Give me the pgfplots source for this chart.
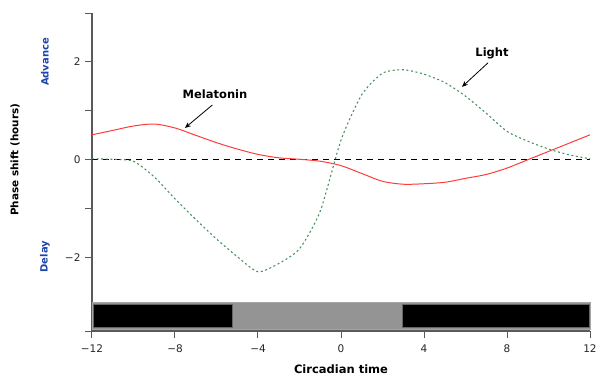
\documentclass[border=0pt]{standalone}
\usepackage{pgfplots}
\pgfplotsset{compat=1.18}
\usepackage{fontspec}
\setmainfont{DejaVu Sans}
\usetikzlibrary{arrows.meta}
\definecolor{redline}{RGB}{255,60,60}
\definecolor{greenline}{RGB}{75,145,95}
\definecolor{bluelab}{RGB}{30,70,170}
\definecolor{axgray}{RGB}{90,90,90}
\begin{document}
\begin{tikzpicture}
\path[use as bounding box] (-92pt,-45pt) rectangle (506pt,331pt);
\begin{axis}[
  at={(0,0)}, anchor=south west,
  scale only axis, width=498pt, height=318pt,
  xmin=-12, xmax=12, ymin=-3.5, ymax=3,
  axis x line=bottom, axis y line=left,
  axis line style={-, axgray, line width=1.2pt},
  xtick={-12,-8,-4,0,4,8,12},
  xticklabels={−12,−8,−4,0,4,8,12},
  ytick={-3.5,-2,-1,0,1,2,3},
  yticklabels={,−2,,0,,2,},
  tick style={axgray, line width=1pt},
  tick align=outside, major tick length=7pt,
  ticklabel style={font=\fontsize{10.5}{12}\selectfont, text=black!85},
  xticklabel style={yshift=-3pt},
  yticklabel style={xshift=-1pt},
  /pgf/number format/assume math mode=true,
  clip=false,
]
% light/dark bar
\addplot[draw=black!35, fill=black!42, line width=0.8pt] coordinates {(-12,-2.92) (12,-2.92) (12,-3.47) (-12,-3.47)} -- cycle;
\addplot[draw=black!60, fill=black, line width=0.6pt] coordinates {(-11.95,-2.96) (-5.25,-2.96) (-5.25,-3.43) (-11.95,-3.43)} -- cycle;
\addplot[draw=black!60, fill=black, line width=0.6pt] coordinates {(2.95,-2.96) (11.95,-2.96) (11.95,-3.43) (2.95,-3.43)} -- cycle;
% zero line
\addplot[black, dash pattern=on 6pt off 5pt, line width=0.8pt] coordinates {(-12,0) (12,0)};
% melatonin
\addplot[redline, line width=1pt, smooth, tension=0.5] coordinates {
(-12,0.51) (-11,0.6) (-10,0.69) (-9,0.73) (-8,0.65) (-7,0.5) (-6,0.35) (-5,0.22)
(-4,0.11) (-3,0.04) (-2,0.01) (-1,-0.03) (0,-0.12) (1,-0.28) (2,-0.44) (3,-0.5)
(4,-0.49) (5,-0.46) (6,-0.38) (7,-0.3) (8,-0.17) (9,0.0) (10,0.17) (11,0.34) (12,0.51)};
% light
\addplot[greenline, line width=1.1pt, dash pattern=on 2pt off 2.6pt, smooth, tension=0.4] coordinates {
(-12,0.02) (-11,0.01) (-10,-0.03) (-9,-0.35) (-8,-0.8) (-7,-1.22) (-6,-1.62) (-5,-1.98)
(-4,-2.29) (-3,-2.12) (-2,-1.82) (-1,-1.05) (0,0.4) (1,1.33) (2,1.77) (3,1.84)
(4,1.75) (5,1.58) (6,1.3) (7,0.95) (8,0.58) (9,0.38) (10,0.22) (11,0.1) (12,0.02)};
% annotations
\node[font=\bfseries\fontsize{11.5}{13}\selectfont] at (axis cs:-6.07,1.33) {Melatonin};
\draw[-{Stealth[length=6pt,width=5pt]}, line width=0.8pt] (axis cs:-6.2,1.12) -- (axis cs:-7.52,0.65);
\node[font=\bfseries\fontsize{11.5}{13}\selectfont] at (axis cs:7.28,2.18) {Light};
\draw[-{Stealth[length=6pt,width=5pt]}, line width=0.8pt] (axis cs:7.08,1.98) -- (axis cs:5.83,1.49);
\node[font=\bfseries\fontsize{10.4}{12}\selectfont, rotate=90] at (axis cs:-15.71,0) {Phase shift (hours)};
\node[font=\bfseries\fontsize{10}{12}\selectfont, rotate=90, text=bluelab] at (axis cs:-14.27,2) {Advance};
\node[font=\bfseries\fontsize{10}{12}\selectfont, rotate=90, text=bluelab] at (axis cs:-14.27,-1.98) {Delay};
\node[font=\bfseries\fontsize{11.5}{13}\selectfont] at (axis cs:0,-4.29) {Circadian time};
\end{axis}
\end{tikzpicture}
\end{document}
